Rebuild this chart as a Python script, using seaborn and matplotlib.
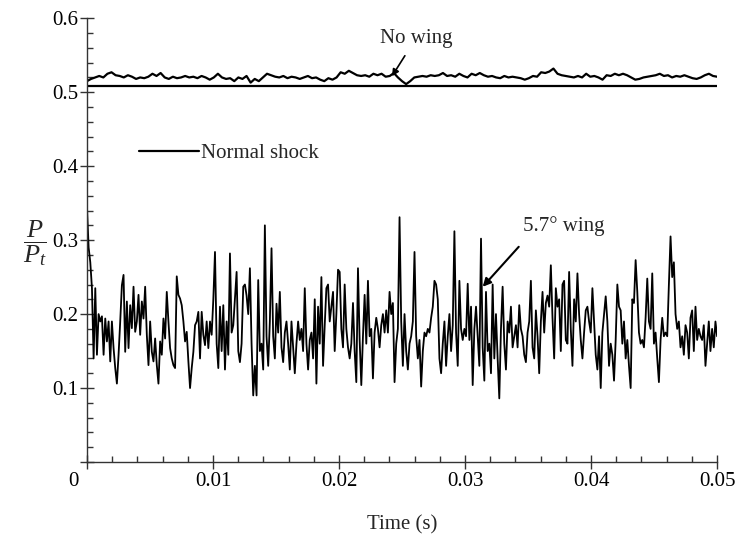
import numpy as np
import pandas as pd
import matplotlib
matplotlib.use('Agg')
import matplotlib.pyplot as plt
import matplotlib.transforms as mtransforms
import seaborn as sns

wing_5_7 = [
    0.345, 0.29, 0.27, 0.235, 0.14, 0.235, 0.145, 0.20, 0.19, 0.197,
    0.145, 0.194, 0.163, 0.19, 0.136, 0.19, 0.154, 0.127, 0.106, 0.145,
    0.19, 0.239, 0.253, 0.149, 0.217, 0.154, 0.212, 0.181, 0.237, 0.176,
    0.19, 0.226, 0.172, 0.217, 0.194, 0.237, 0.172, 0.131, 0.19, 0.149,
    0.136, 0.167, 0.131, 0.106, 0.163, 0.145, 0.194, 0.167, 0.23, 0.19,
    0.154, 0.14, 0.131, 0.127, 0.251, 0.226, 0.221, 0.212, 0.19, 0.163,
    0.176, 0.136, 0.10, 0.127, 0.149, 0.185, 0.19, 0.203, 0.14, 0.203,
    0.172, 0.158, 0.19, 0.154, 0.19, 0.172,
    0.22, 0.284, 0.16, 0.127, 0.21, 0.15, 0.212, 0.125, 0.19, 0.145,
    0.282, 0.175, 0.185, 0.22, 0.257, 0.15, 0.135, 0.16, 0.237, 0.24,
    0.225, 0.20, 0.262, 0.16, 0.09, 0.13, 0.09, 0.246, 0.15, 0.16,
    0.125, 0.32, 0.17, 0.13, 0.19, 0.289, 0.17, 0.14, 0.214, 0.175,
    0.23, 0.155, 0.135, 0.175, 0.19, 0.16, 0.125, 0.19, 0.155, 0.12,
    0.16, 0.19, 0.165, 0.18, 0.15, 0.235, 0.16, 0.125, 0.165, 0.175,
    0.14, 0.22, 0.106, 0.21, 0.16, 0.25, 0.13, 0.185, 0.235, 0.24,
    0.19, 0.21, 0.23, 0.15, 0.20, 0.26,
    0.257, 0.18, 0.155, 0.24, 0.18, 0.155, 0.14, 0.16, 0.215, 0.15,
    0.108, 0.262, 0.165, 0.104, 0.17, 0.226, 0.16, 0.245, 0.17, 0.18,
    0.113, 0.175, 0.195, 0.18, 0.155, 0.185, 0.20, 0.175, 0.205, 0.175,
    0.23, 0.20, 0.215, 0.108, 0.16, 0.18, 0.331, 0.19, 0.13, 0.20,
    0.15, 0.125, 0.16, 0.17, 0.19, 0.284, 0.17, 0.14, 0.165, 0.102,
    0.15, 0.175, 0.17, 0.18, 0.175, 0.195, 0.21, 0.245, 0.24, 0.22,
    0.14, 0.12, 0.16, 0.19, 0.13, 0.17, 0.20, 0.15, 0.185, 0.312,
    0.175, 0.13, 0.245, 0.18, 0.165, 0.18,
    0.17, 0.241, 0.165, 0.21, 0.104, 0.18, 0.21, 0.17, 0.13, 0.302,
    0.155, 0.11, 0.23, 0.15, 0.16, 0.12, 0.24, 0.14, 0.20, 0.14,
    0.086, 0.18, 0.237, 0.16, 0.125, 0.19, 0.175, 0.21, 0.155, 0.17,
    0.185, 0.155, 0.212, 0.18, 0.17, 0.145, 0.135, 0.175, 0.19, 0.245,
    0.155, 0.14, 0.205, 0.17, 0.12, 0.19, 0.23, 0.175, 0.215, 0.225,
    0.21, 0.266, 0.195, 0.14, 0.235, 0.21, 0.22, 0.15, 0.24, 0.245,
    0.165, 0.16, 0.257, 0.18, 0.13, 0.22, 0.19, 0.255, 0.20, 0.165,
    0.14, 0.175, 0.205, 0.21, 0.19, 0.175,
    0.235, 0.19, 0.145, 0.125, 0.17, 0.10, 0.175, 0.20, 0.224, 0.19,
    0.13, 0.16, 0.145, 0.11, 0.165, 0.24, 0.21, 0.205, 0.16, 0.19,
    0.14, 0.165, 0.13, 0.10, 0.22, 0.215, 0.273, 0.23, 0.175, 0.16,
    0.165, 0.155, 0.195, 0.248, 0.19, 0.18, 0.255, 0.16, 0.175, 0.14,
    0.108, 0.165, 0.195, 0.17, 0.175, 0.17, 0.24, 0.305, 0.25, 0.27,
    0.20, 0.18, 0.19, 0.155, 0.17, 0.145, 0.185, 0.175, 0.14, 0.195,
    0.205, 0.15, 0.21, 0.165, 0.18, 0.17, 0.165, 0.185, 0.13, 0.16,
    0.19, 0.15, 0.18, 0.155, 0.19, 0.17,
]

no_wing = [
    0.515, 0.518, 0.520, 0.522, 0.520, 0.525, 0.527, 0.523, 0.522, 0.520,
    0.523, 0.521, 0.518, 0.520, 0.519, 0.521, 0.525, 0.522, 0.526, 0.520,
    0.518, 0.521, 0.519, 0.520, 0.522, 0.520, 0.521, 0.519, 0.522, 0.520,
    0.517, 0.520, 0.525, 0.520, 0.518, 0.519, 0.515, 0.520, 0.518, 0.522,
    0.513, 0.518, 0.515, 0.520, 0.525, 0.523, 0.521, 0.520, 0.522, 0.519,
    0.521, 0.520, 0.518, 0.520, 0.522, 0.519, 0.520, 0.517, 0.515, 0.519,
    0.517, 0.520, 0.527, 0.525, 0.529, 0.526, 0.523, 0.522, 0.523, 0.521,
    0.525, 0.523, 0.525, 0.521, 0.522, 0.526, 0.520, 0.515, 0.511, 0.515,
    0.520, 0.521, 0.522, 0.521, 0.523, 0.522, 0.523, 0.526, 0.522, 0.523,
    0.521, 0.525, 0.522, 0.520, 0.525, 0.523, 0.526, 0.523, 0.521, 0.522,
    0.520, 0.519, 0.522, 0.520, 0.521, 0.520, 0.519, 0.517, 0.519, 0.522,
    0.521, 0.527, 0.526, 0.528, 0.532, 0.525, 0.523, 0.522, 0.521, 0.520,
    0.522, 0.520, 0.525, 0.521, 0.522, 0.520, 0.517, 0.523, 0.522, 0.525,
    0.523, 0.525, 0.523, 0.520, 0.517, 0.518, 0.520, 0.521, 0.522, 0.523,
    0.525, 0.522, 0.523, 0.520, 0.522, 0.521, 0.523, 0.521, 0.519, 0.518,
    0.520, 0.523, 0.525, 0.522, 0.521,
]

normal_shock = 0.508

x_ticks = [0, 0.01, 0.02, 0.03, 0.04, 0.05]
x_labels = ['0', '0.01', '0.02', '0.03', '0.04', '0.05']
y_ticks = [0, 0.1, 0.2, 0.3, 0.4, 0.5, 0.6]
y_labels = ['', '0.1', '0.2', '0.3', '0.4', '0.5', '0.6']

sns.set_style('ticks')
plt.rcParams['font.family'] = ['Liberation Serif', 'DejaVu Serif']
plt.rcParams['mathtext.fontset'] = 'custom'
plt.rcParams['mathtext.rm'] = 'Liberation Serif'
plt.rcParams['mathtext.it'] = 'Liberation Serif:italic'
plt.rcParams['font.size'] = 15

df_wing = pd.DataFrame({'t': np.linspace(0, 0.05, len(wing_5_7)), 'p': wing_5_7})
df_nowing = pd.DataFrame({'t': np.linspace(0, 0.05, len(no_wing)), 'p': no_wing})

fig = plt.figure(figsize=(7.37, 5.38), dpi=100)
ax = fig.add_axes([0.118, 0.1413, 0.855, 0.8247])

sns.lineplot(data=df_wing, x='t', y='p', ax=ax, color='black', lw=1.3)
sns.lineplot(data=df_nowing, x='t', y='p', ax=ax, color='black', lw=1.6)
shock = ax.axhline(normal_shock, color='black', lw=1.6, label='Normal shock')

ax.set_xlim(0, 0.05)
ax.set_ylim(0, 0.6)
ax.set_xticks(x_ticks)
ax.set_xticklabels(x_labels)
ax.set_yticks(y_ticks)
ax.set_yticklabels(y_labels)
ax.set_xticks(np.arange(0, 0.0501, 0.002), minor=True)
ax.set_yticks(np.arange(0, 0.601, 0.02), minor=True)
ax.tick_params(which='both', bottom=True, left=True, top=False, right=False)
ax.tick_params(which='major', direction='inout', length=10, width=1, colors='#333333',
               labelcolor='black', labelsize=15)
ax.tick_params(which='minor', direction='in', length=4.5, width=1, colors='#333333')
ax.tick_params(axis='x', which='major', pad=2)
ax.tick_params(axis='y', which='major', pad=1)
for side in ['top', 'right']:
    ax.spines[side].set_visible(False)
for side in ['left', 'bottom']:
    ax.spines[side].set_color('#333333')
    ax.spines[side].set_linewidth(1)

# the origin "0" sits left of the corner
lab0 = ax.get_xticklabels()[0]
lab0.set_transform(lab0.get_transform() + mtransforms.ScaledTranslation(-9.4 / 72, 0, fig.dpi_scale_trans))

ax.set_xlabel('Time (s)', fontsize=15, labelpad=18)
ax.set_ylabel('')
fig.text(0.048, 0.548, r'$\dfrac{P}{P_t}$', fontsize=19, ha='center', va='center')

ax.annotate('No wing', xy=(0.0242, 0.5216), xytext=(0.0261, 0.573),
            ha='center', va='center', fontsize=15,
            arrowprops=dict(arrowstyle='-|>', color='black', lw=1.2, shrinkA=4, shrinkB=0,
                            mutation_scale=10))
ax.text(0.0378, 0.319, '5.7° wing', ha='center', va='center', fontsize=15)
ax.annotate('', xy=(0.0314, 0.2369), xytext=(0.03426, 0.291),
            arrowprops=dict(arrowstyle='-|>', color='black', lw=1.5, shrinkA=0, shrinkB=0,
                            mutation_scale=12))

ax.legend(handles=[shock], loc='center left', bbox_to_anchor=(0.0825, 0.696),
          frameon=False, handlelength=2.9, handletextpad=0.1, borderpad=0,
          borderaxespad=0, fontsize=15)

fig.savefig('out.png', dpi=100)
